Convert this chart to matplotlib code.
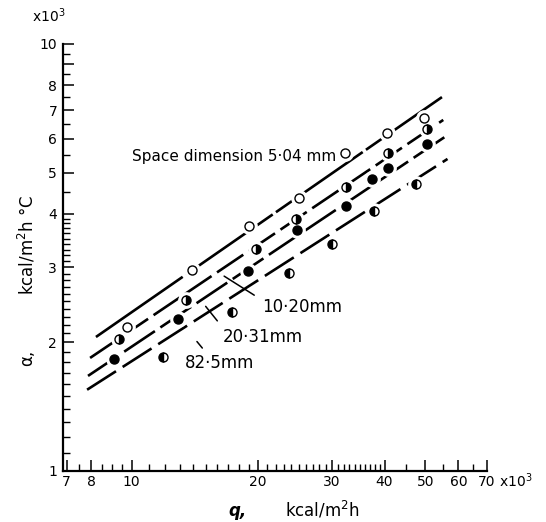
import numpy as np
import matplotlib.pyplot as plt
from matplotlib.ticker import FixedLocator, FixedFormatter, NullFormatter

plt.rcParams['font.family'] = ['DejaVu Sans']

# q in 10^3 kcal/m2h, alpha in 10^3 kcal/m2h C
q_504 = [9.75, 13.9, 19.0, 25.0, 32.2, 40.5, 49.7]
a_504 = [2.17, 2.96, 3.75, 4.36, 5.56, 6.19, 6.71]

q_1020 = [9.33, 13.5, 19.8, 24.6, 32.4, 40.8, 50.5]
a_1020 = [2.04, 2.51, 3.31, 3.89, 4.63, 5.56, 6.32]

q_2031 = [9.07, 12.9, 18.9, 24.8, 32.4, 37.3, 40.8, 50.5]
a_2031 = [1.83, 2.27, 2.94, 3.67, 4.17, 4.83, 5.12, 5.83]

q_825 = [11.9, 17.3, 23.7, 30.0, 37.7, 47.5]
a_825 = [1.85, 2.36, 2.91, 3.40, 4.06, 4.70]

# correlation lines, end points
fit_q_504, fit_a_504 = [8.22, 54.8], [2.06, 7.51]
fit_q_1020, fit_a_1020 = [7.96, 55.2], [1.84, 6.64]
fit_q_2031, fit_a_2031 = [7.87, 55.7], [1.67, 6.06]
fit_q_825, fit_a_825 = [7.83, 56.5], [1.55, 5.38]

x_major = [7, 8, 10, 20, 30, 40, 50, 60, 70]
x_minor = [7.5, 8.5, 9, 9.5] + list(range(11, 20)) + list(range(21, 30)) + list(range(31, 40)) + [45, 55, 65]
y_major = [1, 2, 3, 4, 5, 6, 7, 8, 9, 10]
y_labels = ['1', '2', '3', '4', '5', '6', '7', '8', '', '10']
y_minor = list(np.arange(1.1, 4.0, 0.1)) + [4.5, 5.5, 6.5, 7.5, 8.5, 9.5]

fig = plt.figure(figsize=(5.46, 5.22), dpi=100)
ax = fig.add_axes([62.7 / 546, 51 / 522, (486.6 - 62.7) / 546, (471 - 44) / 522])
ax.set_xscale('log')
ax.set_yscale('log')
ax.set_xlim(6.85, 70)
ax.set_ylim(1, 10)

lw = 1.9
ax.plot(fit_q_504, fit_a_504, color='black', lw=lw, dashes=(40, 1.5), zorder=2)
ax.plot(fit_q_1020, fit_a_1020, color='black', lw=lw, dashes=(12, 2.5), zorder=2)
ax.plot(fit_q_2031, fit_a_2031, color='black', lw=lw, dashes=(14, 2.5), zorder=2)
ax.plot(fit_q_825, fit_a_825, color='black', lw=lw, dashes=(13, 3), zorder=2)

series = [
    (q_504, a_504, dict(mfc='white', fillstyle='full')),
    (q_1020, a_1020, dict(mfc='black', fillstyle='right', markerfacecoloralt='white')),
    (q_2031, a_2031, dict(mfc='black', fillstyle='full')),
    (q_825, a_825, dict(mfc='black', fillstyle='left', markerfacecoloralt='white')),
]
for qs, als, style in series:
    # white halo breaks the line around each point
    ax.plot(qs, als, 'o', ms=11, mfc='white', mec='white', ls='none', zorder=3)
    ax.plot(qs, als, 'o', ms=6.5, mec='black', mew=1.0, ls='none', zorder=4, **style)

# labels
ax.text(10.0, 5.45, 'Space dimension 5·04 mm', fontsize=11, ha='left', va='center')
ax.annotate('10·20mm', xy=(16.6, 2.86), xytext=(20.4, 2.42), fontsize=12, ha='left', va='center',
            arrowprops=dict(arrowstyle='-', lw=1.1, color='black', relpos=(0, 0.9), shrinkA=4, shrinkB=0))
ax.annotate('20·31mm', xy=(15.0, 2.43), xytext=(16.5, 2.06), fontsize=12, ha='left', va='center',
            arrowprops=dict(arrowstyle='-', lw=1.1, color='black', relpos=(0, 1.0), shrinkA=4, shrinkB=0))
ax.annotate('82·5mm', xy=(14.3, 2.01), xytext=(13.4, 1.79), fontsize=12, ha='left', va='center',
            arrowprops=dict(arrowstyle='-', lw=1.1, color='black', relpos=(0.32, 1.0), shrinkA=3, shrinkB=0))

# axes styling
for side in ['top', 'right']:
    ax.spines[side].set_visible(False)
for side in ['left', 'bottom']:
    ax.spines[side].set_linewidth(1.6)

ax.xaxis.set_major_locator(FixedLocator(x_major))
ax.xaxis.set_major_formatter(FixedFormatter([str(v) for v in x_major]))
ax.xaxis.set_minor_locator(FixedLocator(x_minor))
ax.xaxis.set_minor_formatter(NullFormatter())
ax.yaxis.set_major_locator(FixedLocator(y_major))
ax.yaxis.set_major_formatter(FixedFormatter(y_labels))
ax.yaxis.set_minor_locator(FixedLocator(y_minor))
ax.yaxis.set_minor_formatter(NullFormatter())

ax.tick_params(which='major', direction='in', length=8, width=1.1, labelsize=10, pad=3)
ax.tick_params(which='minor', direction='in', length=5, width=1.0)
ax.tick_params(axis='y', which='major', pad=4)

fig.text(49 / 546, 1 - 16 / 522, 'x10$^3$', fontsize=10, ha='center', va='center')
fig.text(499 / 546, 1 - 481 / 522, 'x10$^3$', fontsize=10, ha='left', va='center')

fig.text(238 / 546, 1 - 511 / 522, 'q,', fontsize=12, style='italic', fontweight='bold', ha='center', va='center')
fig.text(322 / 546, 1 - 510 / 522, 'kcal/m$^2$h', fontsize=12, ha='center', va='center')
fig.text(27 / 546, 1 - 358 / 522, 'α,', fontsize=12, rotation=90, ha='center', va='center')
fig.text(27 / 546, 1 - 245 / 522, 'kcal/m$^2$h °C', fontsize=12, rotation=90, ha='center', va='center')

fig.savefig('out.png', dpi=100)
